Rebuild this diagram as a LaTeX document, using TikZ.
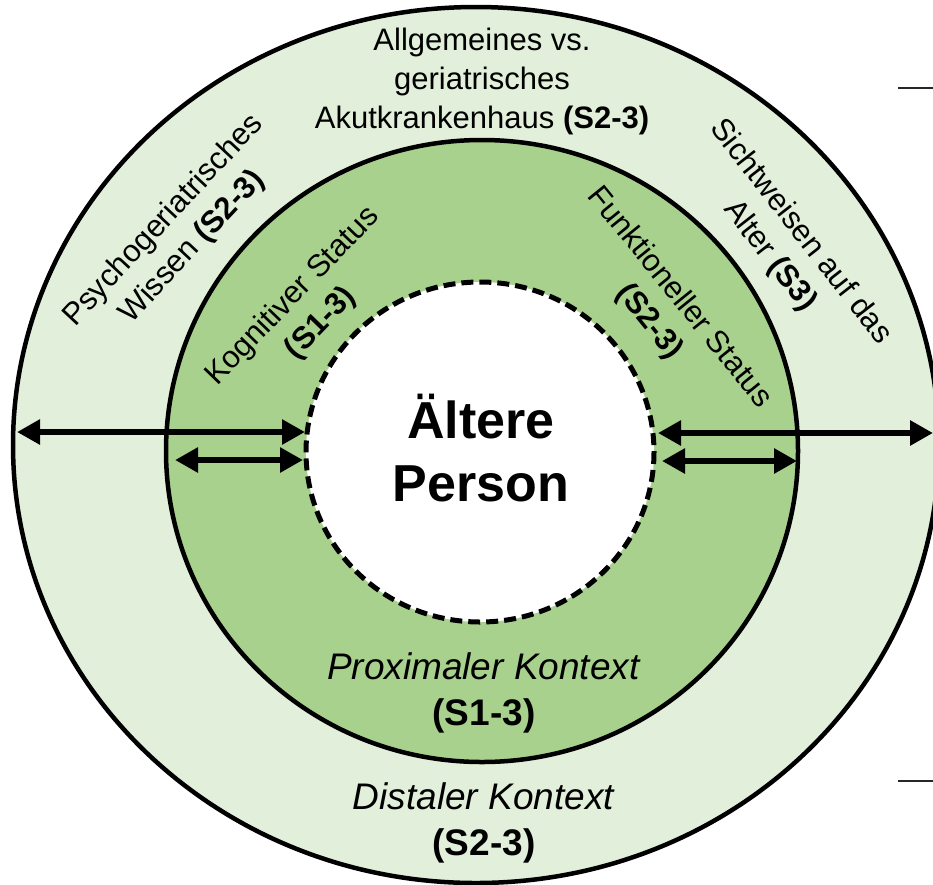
\documentclass[tikz,border=0pt]{standalone}
\usepackage{fontspec}
\setmainfont{Liberation Sans}
\usetikzlibrary{arrows.meta}
\definecolor{distalgreen}{HTML}{E2EFDA}
\definecolor{proxgreen}{HTML}{A9D18E}
\tikzset{
  ring/.style={line width=4.5pt},
  ringlabel/.style={font=\fontsize{31}{39}\selectfont, align=center, inner sep=0pt},
  ctxlabel/.style={font=\fontsize{37}{46}\selectfont, align=center, inner sep=0pt},
  link/.style={line width=6.5pt, {Triangle[length=23pt,width=24pt]}-{Triangle[length=23pt,width=24pt]}},
}
\begin{document}
\begin{tikzpicture}[x=1pt,y=-1pt]
\clip (0,0) rectangle (933,884);
% the three rings
\draw[ring, fill=distalgreen] (476,445) ellipse [x radius=463, y radius=438];
\draw[ring, fill=proxgreen] (482,451) ellipse [x radius=316, y radius=311];
\draw[ring, fill=white, line width=5pt, dash pattern=on 12pt off 6pt] (480,452) ellipse [x radius=174, y radius=170];
% side marks
\draw[line width=2pt, black!85] (898,88) -- (933,88);
\draw[line width=2pt, black!85] (898,781) -- (933,781);
% centre
\node[font=\bfseries\fontsize{52}{63}\selectfont, align=center, inner sep=0pt] (person) at (481,448) {Ältere\\Person};
% labels of the rings
\node[ctxlabel] (proximal) at (484,693) {\textit{Proximaler Kontext}\\\textbf{(S1-3)}};
\node[ctxlabel] (distal) at (484,823) {\textit{Distaler Kontext}\\\textbf{(S2-3)}};
\node[ringlabel] (hospital) at (482,81) {Allgemeines vs.\\geriatrisches\\Akutkrankenhaus \textbf{(S2-3)}};
\node[ringlabel, rotate=47] (knowledge) at (178,234) {Psychogeriatrisches\\Wissen \textbf{(S2-3)}};
\node[ringlabel, rotate=46] (cognitive) at (307,310) {Kognitiver Status\\\textbf{(S1-3)}};
\node[ringlabel, rotate=-51] (functional) at (664,310) {Funktioneller Status\\\textbf{(S2-3)}};
\node[ringlabel, rotate=-52] (views) at (785,244) {Sichtweisen auf das\\Alter \textbf{(S3)}};
% arrows
\coordinate (outerW) at (17,432);
\coordinate (innerW) at (305,432);
\coordinate (midW) at (175,460);
\coordinate (innerWlow) at (303,460);
\coordinate (innerE) at (658,433);
\coordinate (edgeE) at (933,433);
\coordinate (innerElow) at (662,461);
\coordinate (midE) at (797,461);
\draw[link] (outerW) -- (innerW);
\draw[link] (midW) -- (innerWlow);
\draw[link] (innerE) -- (edgeE);
\draw[link] (innerElow) -- (midE);
\end{tikzpicture}
\end{document}
